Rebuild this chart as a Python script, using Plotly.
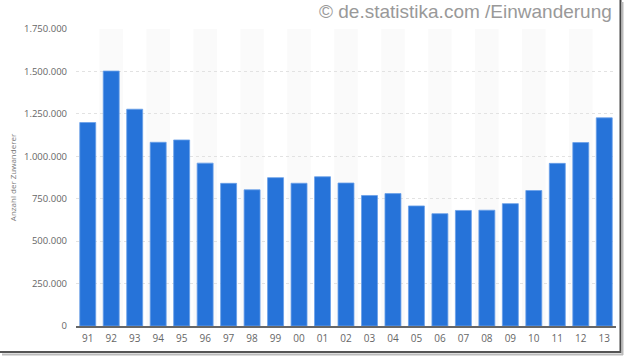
import plotly.graph_objects as go

years = ["91", "92", "93", "94", "95", "96", "97", "98", "99", "00", "01", "02",
         "03", "04", "05", "06", "07", "08", "09", "10", "11", "12", "13"]
zuwanderer = [1198978, 1502198, 1277408, 1082553, 1096048, 959691, 840633, 802456,
              874023, 841158, 879217, 842543, 768975, 780175, 707352, 661855,
              680766, 682146, 721014, 798282, 958299, 1080936, 1226493]
y_ticks = [0, 250000, 500000, 750000, 1000000, 1250000, 1500000, 1750000]
y_tick_labels = ["0", "250.000", "500.000", "750.000", "1.000.000",
                 "1.250.000", "1.500.000", "1.750.000"]

W, H = 624, 357
L, R, T, B = 76, 8, 29, 31
pw, ph = W - L - R, H - T - B


def px(x):
    return (x - L) / pw


def py(y):
    return (H - B - y) / ph


fig = go.Figure(go.Bar(
    x=list(range(len(years))), y=zuwanderer,
    marker=dict(color="#2673d9", line=dict(color="#6a9fe8", width=0.8)),
    width=0.68,
))

shapes = []
for i in range(1, len(years), 2):
    shapes.append(dict(type="rect", xref="x", yref="paper", x0=i - 0.5, x1=i + 0.5,
                       y0=0, y1=1, fillcolor="#fafafa", line=dict(width=0), layer="below"))
# frame of the screenshot
shapes += [
    dict(type="line", xref="paper", yref="paper", x0=px(620.5), x1=px(620.5), y0=py(0), y1=py(353),
         line=dict(color="#444444", width=2)),
    dict(type="line", xref="paper", yref="paper", x0=px(622.5), x1=px(622.5), y0=py(2), y1=py(355),
         line=dict(color="#bbbbbb", width=2)),
    dict(type="line", xref="paper", yref="paper", x0=px(0), x1=px(621), y0=py(352), y1=py(352),
         line=dict(color="#555555", width=2)),
    dict(type="line", xref="paper", yref="paper", x0=px(2), x1=px(623), y0=py(354.5), y1=py(354.5),
         line=dict(color="#bbbbbb", width=2)),
]

fig.update_layout(
    width=W, height=H,
    margin=dict(l=L, r=R, t=T, b=B, autoexpand=False),
    paper_bgcolor="white", plot_bgcolor="white",
    showlegend=False,
    font=dict(family="Open Sans, Liberation Sans, sans-serif", color="#666666"),
    shapes=shapes,
    xaxis=dict(
        tickvals=list(range(len(years))), ticktext=years,
        range=[-0.5, len(years) - 0.5],
        showgrid=False, zeroline=False,
        showline=True, linecolor="#666666", linewidth=1.5,
        tickfont=dict(size=10, color="#666666"),
        ticks="", ticklabelstandoff=2,
    ),
    yaxis=dict(
        range=[0, 1750000],
        tickvals=y_ticks, ticktext=y_tick_labels,
        showgrid=True, gridcolor="#e2e2e2", griddash="dot", gridwidth=1,
        zeroline=False,
        tickfont=dict(size=9.5, color="#666666"),
        ticks="", ticklabelstandoff=8,
        title=dict(text="Anzahl der Zuwanderer", font=dict(size=8, color="#777777"), standoff=6),
    ),
    annotations=[dict(
        text="© de.statistika.com /Einwanderung", xref="paper", yref="paper",
        x=px(614), y=py(12), xanchor="right", yanchor="middle", showarrow=False,
        font=dict(family="Liberation Sans, Arial, sans-serif", size=19, color="#999999"),
    )],
)

fig.write_html("out.html", config={"displayModeBar": False},
               post_script="document.body.style.margin='0';document.body.style.overflow='hidden';")
